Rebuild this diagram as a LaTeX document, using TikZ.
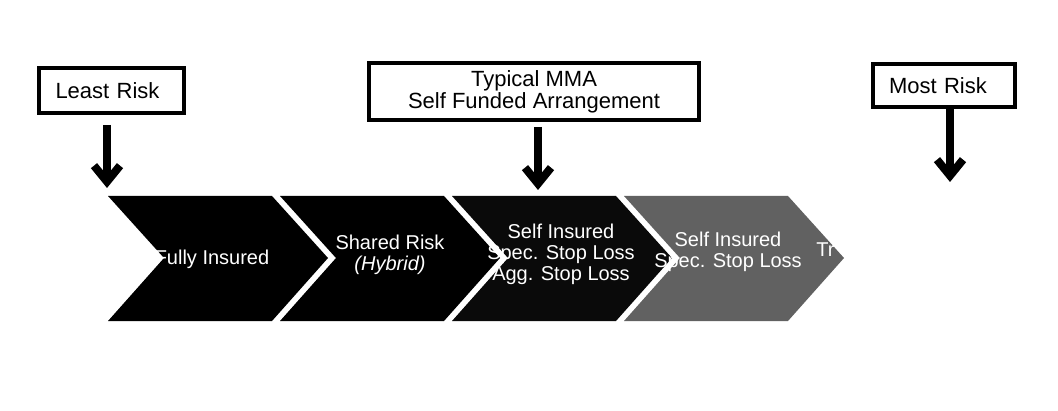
\documentclass[tikz,border=0pt]{standalone}
\usepackage{fontspec}
\setmainfont{Liberation Sans}
\usepackage{tikz}
\usetikzlibrary{arrows.meta, positioning}
\tikzstyle{riskbox} = [rectangle, draw=black, line width=1.8pt, fill=white, text=black, font=\fontsize{11}{11}\selectfont]
\tikzstyle{arrow}   = [line width=4pt, -{Straight Barb[length=8pt, width=13pt]}]
\tikzstyle{stage}   = [text=white, align=center, inner sep=0pt, font=\fontsize{10}{10.5}\selectfont]
\tikzstyle{chevron} = [draw=none]

\begin{document}
\begin{tikzpicture}[x=0.5pt, y=-0.5pt]
    \useasboundingbox (0,0) rectangle (1058,411);

    % the four stages
    \fill [chevron, fill=black]    (108,196) -- ++(164,0) -- ++(56,62) -- ++(-56,63) -- ++(-164,0) -- ++(56,-63) -- cycle;
    \fill [chevron, fill=black]    (280,196) -- ++(164,0) -- ++(56,62) -- ++(-56,63) -- ++(-164,0) -- ++(56,-63) -- cycle;
    \fill [chevron, fill=black!96] (452,196) -- ++(164,0) -- ++(56,62) -- ++(-56,63) -- ++(-164,0) -- ++(56,-63) -- cycle;
    \fill [chevron, fill=black!62] (624,196) -- ++(164,0) -- ++(56,62) -- ++(-56,63) -- ++(-164,0) -- ++(56,-63) -- cycle;

    \node (fully)  [stage] at (212,259) {Fully Insured};
    \node (shared) [stage] at (390,255) {Shared Risk\\\textit{(Hybrid)}};
    \node (agg)    [stage] at (561,254) {Self Insured\\Spec. Stop Loss\\Agg. Stop Loss};
    \node (spec)   [stage] at (728,252) {Self Insured\\Spec. Stop Loss};
    \node (tr)     [stage, anchor=west] at (816,250) {Tr};

    % risk labels
    \node (least) [riskbox, minimum width=72.5pt, minimum height=22.5pt, text width=56pt, align=left, inner xsep=8pt] at (111.5,90.5) {Least Risk};
    \node (mma)   [riskbox, minimum width=165pt, minimum height=28.5pt, align=center] at (534,91.5) {Typical MMA\\Self Funded Arrangement};
    \node (most)  [riskbox, minimum width=71pt, minimum height=21.5pt, text width=55pt, align=left, inner xsep=8pt] at (944,85.5) {Most Risk};

    \coordinate (leastend) at (107,188);
    \coordinate (mmaend)   at (538,190);
    \coordinate (mostend)  at (950,182);

    \draw [arrow, shorten <=5pt]   (least.south -| leastend) -- (leastend);
    \draw [arrow, shorten <=2.5pt] (mma.south -| mmaend)     -- (mmaend);
    \draw [arrow]                  (most.south -| mostend)   -- (mostend);
\end{tikzpicture}
\end{document}
